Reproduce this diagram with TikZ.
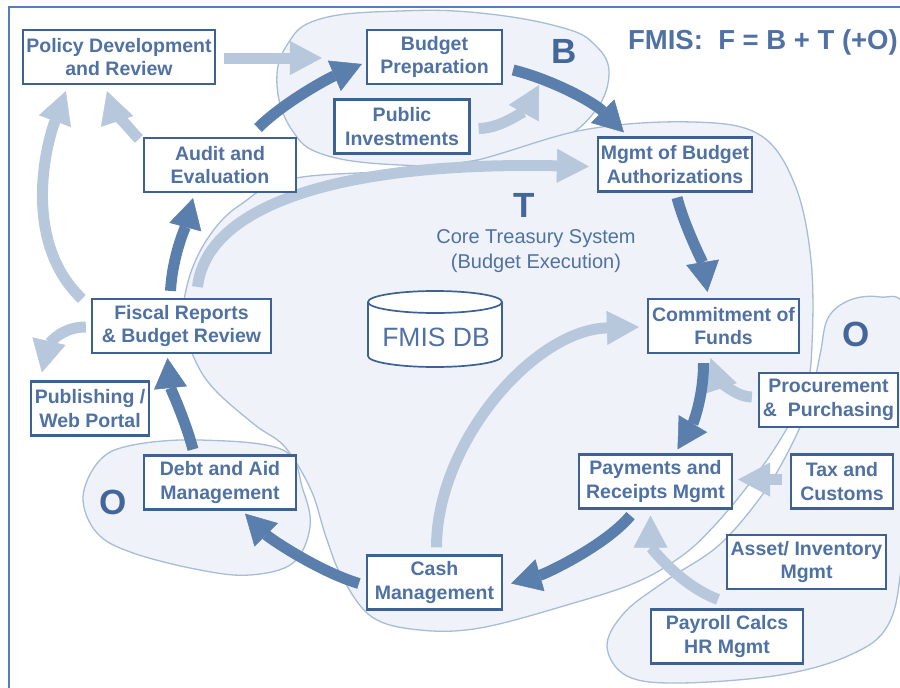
\documentclass[tikz,border=0pt]{standalone}
\usepackage{fontspec}
\setmainfont{Liberation Sans}
\usetikzlibrary{arrows.meta}
\definecolor{txtblue}{RGB}{79,113,163}
\definecolor{boxblue}{RGB}{62,97,148}
\definecolor{darkarr}{RGB}{91,127,173}
\definecolor{lightarr}{RGB}{183,200,220}
\definecolor{regfill}{RGB}{239,243,249}
\definecolor{regline}{RGB}{168,188,214}
\definecolor{framec}{RGB}{79,129,189}
\definecolor{bigletter}{RGB}{68,103,155}
\pgfdeclarelayer{regions}
\pgfdeclarelayer{arrowlayer}
\pgfsetlayers{regions,arrowlayer,main}
\begin{document}
\begin{tikzpicture}[x=1pt,y=-1pt,
  box/.style={draw=boxblue, line width=2.2pt, fill=white, text=txtblue,
    font=\bfseries\fontsize{19.5}{23.5}\selectfont, align=center,
    inner sep=0pt, minimum height=54pt},
  region/.style={fill=regfill, draw=regline, line width=1.3pt},
  darkarrow/.style={draw=darkarr, line width=11pt,
    -{Triangle[length=30pt,width=33pt,line width=0.5pt]}},
  lightarrow/.style={draw=lightarr, line width=11pt,
    -{Triangle[length=32pt,width=34pt,line width=0.5pt]}},
  bigtxt/.style={text=bigletter, font=\bfseries\fontsize{35}{35}\selectfont, inner sep=0pt}]
\useasboundingbox (0,0) rectangle (900,688);
% frame
\draw[framec, line width=2pt] (9,690) -- (9,7) -- (902,7);

% boxes
\node[box, minimum width=192pt] (policy) at (119,57) {Policy Development\\and Review};
\node[box, minimum width=135pt] (budget) at (434.5,57) {Budget\\Preparation};
\node[box, minimum width=135pt] (public) at (402,126.5) {Public\\Investments};
\node[box, minimum width=152pt] (audit) at (220,165) {Audit and\\Evaluation};
\node[box, minimum width=154pt] (mgmt) at (675,164.5) {Mgmt of Budget\\Authorizations};
\node[box, minimum width=179pt] (fiscal) at (181.5,326) {Fiscal Reports\\\& Budget Review};
\node[box, minimum width=118pt] (publish) at (90,408.5) {Publishing /\\Web Portal};
\node[box, minimum width=151pt] (commit) at (723.5,326) {Commitment of\\Funds};
\node[box, minimum width=139pt] (procure) at (828.5,400) {Procurement\\\&\ \ Purchasing};
\node[box, minimum width=152pt] (debt) at (220,482.5) {Debt and Aid\\Management};
\node[box, minimum width=135pt] (cash) at (434.5,582.5) {Cash\\Management};
\node[box, minimum width=153pt] (pay) at (655.5,481.5) {Payments and\\Receipts Mgmt};
\node[box, minimum width=102pt] (tax) at (842,481.5) {Tax and\\Customs};
\node[box, minimum width=159pt] (asset) at (806.5,562) {Asset/ Inventory\\Mgmt};
\node[box, minimum width=152pt] (payroll) at (727,636.5) {Payroll Calcs\\HR Mgmt};

% database cylinder
\filldraw[fill=white, draw=boxblue, line width=1.7pt]
  (368,302) -- (368,356) arc[start angle=180, end angle=0, x radius=67, y radius=11]
  -- (502,302) arc[start angle=0, end angle=-180, x radius=67, y radius=11] -- cycle;
\draw[boxblue, line width=1.7pt] (368,302) arc[start angle=180, end angle=0, x radius=67, y radius=11];
\node[text=txtblue, font=\fontsize{26.5}{26}\selectfont] (db) at (436,337) {FMIS DB};

% texts
\node[bigtxt] (bletter) at (564,51) {B};
\node[bigtxt] (tletter) at (524,205) {T};
\node[bigtxt] (oright) at (856,334) {O};
\node[bigtxt] (oleft) at (113,502) {O};
\node[anchor=east, text=txtblue, font=\bfseries\fontsize{27.5}{27}\selectfont, inner sep=0pt] (title) at (898,42) {FMIS:\ \ F = B + T (+O)};
\node[align=center, text=txtblue, font=\fontsize{20}{25}\selectfont] (core) at (536,251) {Core Treasury System\\(Budget Execution)};

% regions
\begin{pgfonlayer}{regions}
\draw[region] plot[smooth cycle, tension=0.7] coordinates {
  (277,85) (292,130) (325,155) (400,165) (465,162) (550,143) (592,115)
  (609,75) (595,45) (560,27) (480,13) (400,11) (320,19) (287,45)};
\draw[region] plot[smooth cycle, tension=0.6] coordinates {
  (240,205) (296,178) (450,166) (583,130) (693,122) (760,135) (795,185)
  (811,260) (812,345) (805,392) (780,440) (750,483) (715,525) (683,555)
  (637,582) (567,605) (480,628) (420,630) (372,617) (342,577) (326,537)
  (311,490) (285,447) (255,425) (215,390) (195,360) (183,320) (190,275) (210,235)};
\draw[region] plot[smooth cycle, tension=0.6] coordinates {
  (83,497) (100,460) (133,445) (200,440) (283,450) (303,490) (310,527)
  (293,563) (250,575) (200,570) (133,553) (97,533)};
\draw[region] plot[smooth cycle, tension=0.6] coordinates {
  (828,318) (850,300) (880,297) (905,310) (912,420) (902,560) (888,625)
  (850,655) (780,675) (680,683) (627,676) (607,646) (625,612) (667,580)
  (718,546) (760,498) (788,452) (809,404) (820,355)};
\end{pgfonlayer}

% arrows
\begin{pgfonlayer}{arrowlayer}
% light arrows
\draw[lightarrow] ([shift={(8,1)}]policy.east) -- ([shift={(-44,1)}]budget.west);
\draw[lightarrow] ([shift={(8,2)}]public.east) .. controls +(25,0) and +(-12,22) .. ([shift={(36,28)}]budget.east);
\draw[lightarrow] ([shift={(-4,2)}]audit.north west) .. controls +(-10,-10) and +(5,15) .. ([shift={(-12,6)}]policy.south);
\draw[lightarrow] ([shift={(-9,1)}]fiscal.north west) .. controls +(-58,-55) and +(-22,60) .. ([shift={(44,6)}]policy.south west);
\draw[lightarrow] ([shift={(16,-11)}]fiscal.north) .. controls +(10,-85) and +(-240,-5) .. ([shift={(-8,2)}]mgmt.west);
\draw[lightarrow] ([shift={(-5,1)}]fiscal.west) .. controls +(-30,0) and +(5,-22) .. ([shift={(12,-8)}]publish.north west);
\draw[lightarrow] ([shift={(2,-7)}]cash.north) .. controls +(0,-105) and +(-105,3) .. ([shift={(-8,1)}]commit.west);
\draw[lightarrow] ([shift={(-6,-3)}]procure.west) .. controls +(-20,0) and +(5,15) .. ([shift={(-13,4)}]commit.south);
\draw[lightarrow] ([shift={(-8,-2)}]tax.west) -- ([shift={(5,-2)}]pay.east);
\draw[lightarrow] ([shift={(-9,-9)}]payroll.north) .. controls +(-40,-15) and +(0,30) .. ([shift={(-5,6)}]pay.south);
% dark arrows
\draw[darkarrow] ([shift={(38,-37)}]audit.center) .. controls +(25,-25) and +(-35,15) .. ([shift={(-4,7)}]budget.west);
\draw[darkarrow] ([shift={(10,13)}]budget.east) .. controls +(40,10) and +(-30,-30) .. ([shift={(27,-4)}]mgmt.north west);
\draw[darkarrow] ([shift={(2,5)}]mgmt.south) .. controls +(8,30) and +(-5,-30) .. ([shift={(-16,-6)}]commit.north);
\draw[darkarrow] ([shift={(-20,9)}]commit.south) .. controls +(0,35) and +(15,-25) .. ([shift={(22,-4)}]pay.north);
\draw[darkarrow] ([shift={(-25,6)}]pay.south) .. controls +(-25,30) and +(35,-10) .. ([shift={(8,1)}]cash.east);
\draw[darkarrow] ([shift={(-7,1)}]cash.west) .. controls +(-40,-12) and +(25,25) .. ([shift={(25,3)}]debt.south);
\draw[darkarrow] ([shift={(-27,-5)}]debt.north) .. controls +(-8,-30) and +(3,30) .. ([shift={(-14,4)}]fiscal.south);
\draw[darkarrow] ([shift={(-11,-7)}]fiscal.north) .. controls +(2,-35) and +(-8,30) .. ([shift={(-27,5)}]audit.south);
\end{pgfonlayer}
\end{tikzpicture}
\end{document}
